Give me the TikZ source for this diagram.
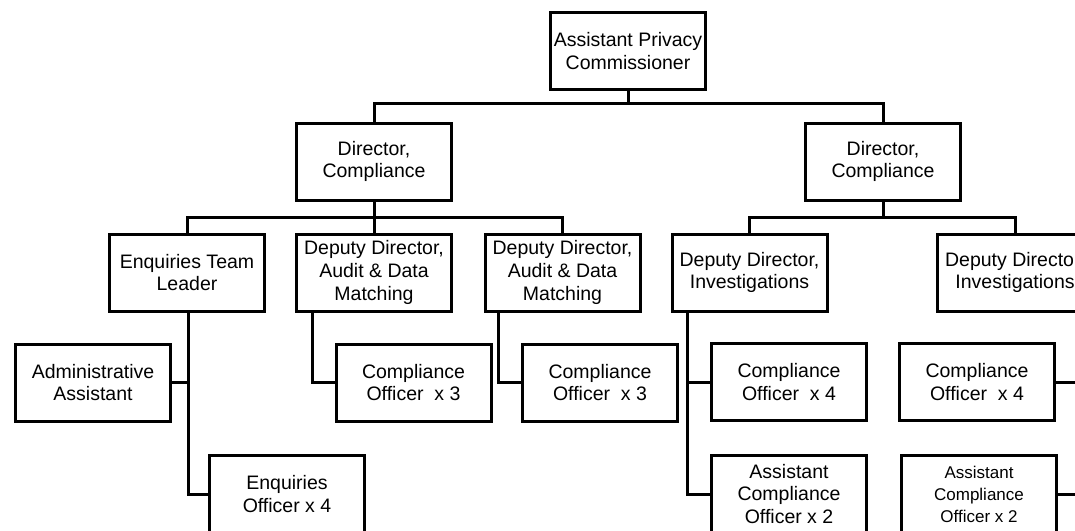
\documentclass[tikz,border=0pt]{standalone}
\usepackage{fontspec}
\setmainfont{Liberation Sans}
\begin{document}
\begin{tikzpicture}[x=1pt,y=-1pt,
  box/.style={draw=black, line width=3pt, fill=white, minimum width=155pt, minimum height=77pt,
    inner sep=0pt, align=center, font=\fontsize{19.5}{22.8}\selectfont},
  link/.style={draw=black, line width=3pt}]
\clip (0,0) rectangle (1075,530);
\fill[white] (0,0) rectangle (1075,530);
% buses
\coordinate (b1) at (0,103);
\coordinate (b2) at (0,217);
% nodes
\node[box] (top)  at (628,51)    {Assistant Privacy\\Commissioner};
\node[box] (dirL) at (374,161.5) {Director,\\Compliance};
\node[box] (dirR) at (883,161.5) {Director,\\Compliance};
\node[box] (etl)  at (187,272.5) {Enquiries Team\\Leader};
\node[box] (dda1) at (374,272.5) {Deputy Director,\\Audit \& Data\\Matching};
\node[box] (dda2) at (562.5,272.5) {Deputy Director,\\Audit \& Data\\Matching};
\node[box] (ddi1) at (749.5,272.5) {Deputy Director,\\Investigations};
\node[box] (ddi2) at (1015,272.5) {Deputy Director,\\Investigations};
\node[box] (admin) at (93,382.5) {Administrative\\Assistant};
\node[box] (eo)    at (287,494)  {Enquiries\\Officer x 4};
\node[box] (co3a)  at (413.5,382.5) {Compliance\\Officer\ \ x 3};
\node[box] (co3b)  at (600,382.5) {Compliance\\Officer\ \ x 3};
\node[box] (co4a)  at (789,382) {Compliance\\Officer\ \ x 4};
\node[box] (aco2a) at (789,494) {Assistant\\Compliance\\Officer x 2};
\node[box] (co4b)  at (977,382) {Compliance\\Officer\ \ x 4};
\node[box, font=\fontsize{17}{22}\selectfont] (aco2b) at (979,494) {Assistant\\Compliance\\Officer x 2};
% level 1
\draw[link] (top.south) -- (top.south |- b1);
\draw[link] (dirL.north) |- (dirR.north |- b1) -- (dirR.north);
% level 2 left
\draw[link] (dirL.south) -- (dirL.south |- b2);
\draw[link] (etl.north) |- (dda2.north |- b2) -- (dda2.north);
\draw[link] (dda1.north) -- (dda1.north |- b2);
% level 2 right
\draw[link] (dirR.south) -- (dirR.south |- b2);
\draw[link] (ddi1.north) |- (ddi2.north |- b2) -- (ddi2.north);
% enquiries team leader
\coordinate (v0) at ([xshift=1pt]etl.south);
\draw[link] (v0) |- (eo.west);
\draw[link] (admin.east) -- (admin.east -| v0);
% audit
\coordinate (v1) at ([xshift=17pt]dda1.south west);
\draw[link] (v1) |- (co3a.west);
\coordinate (v2) at ([xshift=15pt]dda2.south west);
\draw[link] (v2) |- (co3b.west);
% investigations 1
\coordinate (v3) at ([xshift=17pt]ddi1.south west);
\draw[link] (v3) |- (aco2a.west);
\draw[link] (co4a.west) -- (co4a.west -| v3);
% investigations 2
\coordinate (v4) at ([xshift=-18pt]ddi2.south east);
\draw[link] (v4) |- (aco2b.east);
\draw[link] (co4b.east) -- (co4b.east -| v4);
\end{tikzpicture}
\end{document}
